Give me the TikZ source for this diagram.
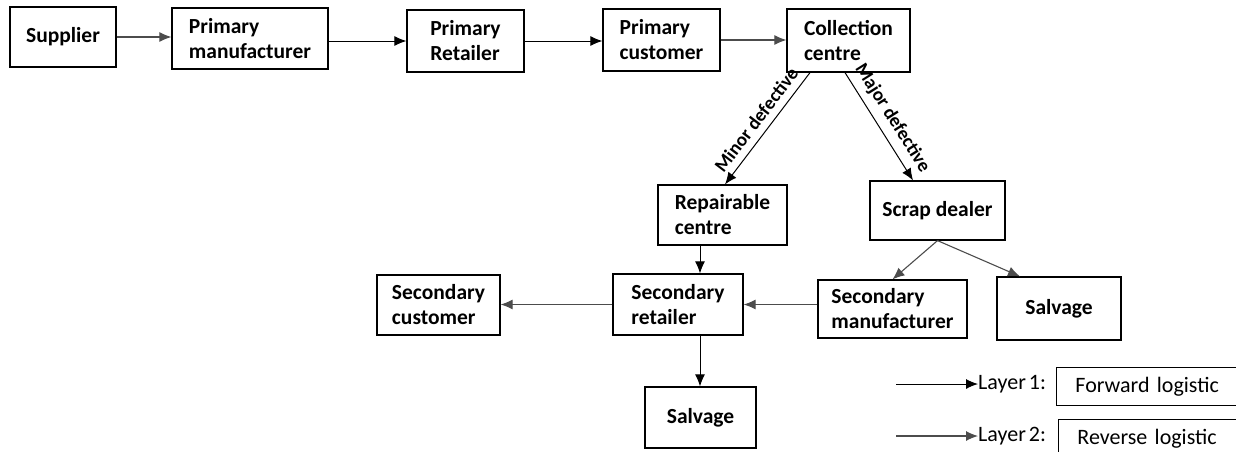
\documentclass[tikz,border=0pt]{standalone}
\usepackage{fontspec}
\setmainfont{Carlito}
\usetikzlibrary{arrows.meta}
\newcommand\legfont{\fontsize{22}{24}\selectfont\spaceskip=3pt\relax}

\begin{document}
\begin{tikzpicture}
      [x=1pt, y=-1pt,
      blk/.style={draw, line width=1.2pt, align=left,
        font=\bfseries\fontsize{21.5}{25}\selectfont},
      fwd/.style={line width=1pt, black, -{Latex[length=12pt,width=10pt]}},
      rev/.style={line width=1.1pt, black!70, -{Latex[length=12pt,width=10pt]}},
      lbl/.style={font=\bfseries\fontsize{19}{21}\selectfont, sloped, above=7pt, inner sep=0pt},
      leg/.style={draw, line width=0.9pt, anchor=north west, align=left,
        inner xsep=19pt, text width=190pt, font=\legfont}]

      \useasboundingbox (0,0) rectangle (1236,451);

      % forward chain
      \node[blk, minimum width=106, minimum height=60] (sup) at (63,37) {Supplier};
      \node[blk, minimum width=156, minimum height=61] (pm) at (250,38.5) {Primary\\manufacturer};
      \node[blk, minimum width=117, minimum height=62] (pr) at (465.5,41) {Primary\\Retailer};
      \node[blk, minimum width=117, minimum height=62] (pc) at (661.5,40) {Primary\\customer};
      \node[blk, minimum width=123, minimum height=63] (cc) at (848.5,40.5) {Collection\\centre};

      % reverse part
      \node[blk, minimum width=129, minimum height=60] (rep) at (722.5,215) {Repairable\\centre};
      \node[blk, minimum width=135, minimum height=59] (scrap) at (937.5,210.5) {Scrap dealer};
      \node[blk, minimum width=123, minimum height=60] (scust) at (438.5,305) {Secondary\\customer};
      \node[blk, minimum width=130, minimum height=61] (sret) at (678,304.5) {Secondary\\retailer};
      \node[blk, minimum width=149, minimum height=58] (sman) at (892.5,309) {Secondary\\manufacturer};
      \node[blk, minimum width=124, minimum height=63] (salvr) at (1059,308.5) {Salvage};
      \node[blk, minimum width=111, minimum height=61] (salvb) at (700.5,417.5) {Salvage};

      \draw[rev] (sup.east) -- (sup.east -| pm.west);
      \draw[fwd] (pm.east |- pr.west) -- (pr.west);
      \draw[fwd] (pr.east) -- (pr.east -| pc.west);
      \draw[rev] (pc.east) -- (pc.east -| cc.west);
      \draw[fwd] ([xshift=-38.5pt]cc.south) -- node[lbl] {Minor defective} ([xshift=2.5pt]rep.north);
      \draw[fwd] ([xshift=-3.5pt]cc.south) -- node[lbl] {Major defective} ([xshift=-24.5pt]scrap.north);
      \draw[fwd] ([xshift=-22.5pt]rep.south) -- ([xshift=-22.5pt]rep.south |- sret.north);
      \draw[rev] (scrap.south) -- (sman.north);
      \draw[rev] (scrap.south) -- ([xshift=-39pt]salvr.north);
      \draw[rev] (sman.west |- sret.east) -- (sret.east);
      \draw[rev] (sret.west) -- (sret.west -| scust.east);
      \draw[fwd] ([xshift=22pt]sret.south) -- ([xshift=22pt]sret.south |- salvb.north);

      % legend
      \coordinate (l1) at (896,384);
      \coordinate (l2) at (896,436);
      \node[anchor=west, inner sep=0pt, font=\legfont] (lay1) at (978,384) {Layer 1:};
      \node[anchor=west, inner sep=0pt, font=\legfont] (lay2) at (978,436) {Layer 2:};
      \draw[fwd] (l1) -- (lay1.west);
      \draw[rev] (l2) -- (lay2.west);
      \node[leg, minimum height=38] (fwdbox) at (1056,367) {Forward logistic};
      \node[leg, minimum height=38] (revbox) at (1058,419) {Reverse logistic};
    \end{tikzpicture}
\end{document}
